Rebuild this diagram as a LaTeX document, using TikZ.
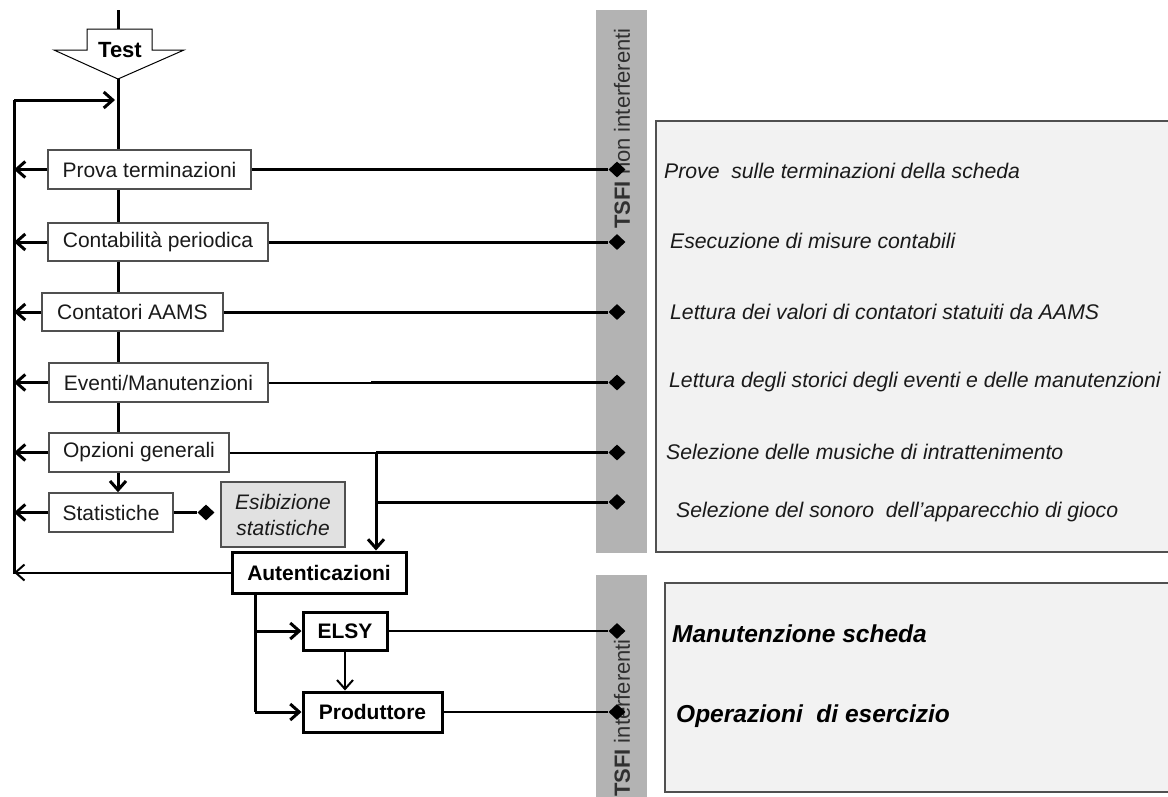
\documentclass[tikz,border=0pt]{standalone}
\usepackage{fontspec}
\setmainfont{Liberation Sans}
\usetikzlibrary{arrows.meta,shapes.geometric,calc}
\definecolor{boxgray}{HTML}{505050}
\definecolor{band}{HTML}{B3B3B3}
\definecolor{panel}{HTML}{F2F2F2}
\definecolor{txt}{HTML}{1A1A1A}
\definecolor{bandtxt}{HTML}{303030}
\begin{document}
\begin{tikzpicture}[x=1pt,y=-1pt,
  box/.style={draw=boxgray, line width=1.5pt, fill=white, inner sep=0pt, text=txt, font=\fontsize{21}{24}\selectfont},
  bbox/.style={draw=black, line width=3pt, fill=white, inner sep=0pt, font=\bfseries\fontsize{21}{24}\selectfont},
  dia/.style={diamond, fill=black, inner sep=0pt, minimum width=17pt, minimum height=16pt},
  thk/.style={line width=3pt},
  thn/.style={line width=2pt},
  barb/.style={-{Straight Barb[length=9pt,width=16pt]}},
  desc/.style={anchor=west, inner sep=0pt, text=txt, font=\itshape\fontsize{21.2}{24}\selectfont},
  bdesc/.style={anchor=west, inner sep=0pt, text=black, font=\bfseries\itshape\fontsize{24.5}{28}\selectfont},
  bandlabel/.style={rotate=90, inner sep=0pt, text=bandtxt, font=\fontsize{22}{24}\selectfont},
  panelbox/.style={draw=boxgray, line width=1.5pt, fill=panel}
]
\useasboundingbox (0,0) rectangle (1168,796);

% bands and panels
\fill[band] (596,10) rectangle (647,553);
\fill[band] (596,575) rectangle (647,800);
\draw[panelbox] (656,121) rectangle (1175,552);
\draw[panelbox] (665,583) rectangle (1175,792);

\node[bandlabel] (bandA) at (622,128.5) {\textbf{TSFI} non interferenti};
\node[bandlabel] (bandB) at (622,718) {\textbf{TSFI} interferenti};

% Test shape
\coordinate (top) at (118,10);
\coordinate (testtop) at (118,29);
\coordinate (testtip) at (118,79);
\draw[line width=1pt, fill=white] (87,29) -- (152,29) -- (152,50) -- (184,50) -- (testtip) -- (54,50) -- (87,50) -- cycle;
\node[font=\bfseries\fontsize{22}{24}\selectfont, inner sep=0pt] (test) at (120,50.5) {Test};
\draw[thk] (top) -- (testtop);

% left boxes
\node[box, minimum width=203pt, minimum height=39pt] (prova) at (149.5,169.5) {Prova terminazioni};
\node[box, minimum width=220pt, minimum height=38pt] (contab) at (158,242) {Contabilità periodica};
\node[box, minimum width=181pt, minimum height=38pt] (contat) at (132.5,312) {Contatori AAMS};
\node[box, minimum width=219pt, minimum height=39pt] (event) at (158.5,382.5) {Eventi/Manutenzioni};
\node[box, minimum width=180pt, minimum height=39pt] (opz) at (139,452.5) {Opzioni generali};
\node[box, minimum width=124pt, minimum height=39pt] (stat) at (111,512.5) {Statistiche};
\node[draw=boxgray, line width=1.5pt, fill=panel!85!gray, inner sep=0pt, minimum width=124pt, minimum height=65pt, align=center, text=txt, font=\itshape\fontsize{21}{26}\selectfont] (esib) at (283,514.5) {Esibizione\\statistiche};
\node[bbox, minimum width=174pt, minimum height=41pt] (aut) at (319,572.5) {Autenticazioni};
\node[bbox, minimum width=84pt, minimum height=38pt] (elsy) at (345,631) {ELSY};
\node[bbox, minimum width=139pt, minimum height=40pt] (prod) at (372.5,712) {Produttore};

% main vertical line
\draw[thk] (testtip) -- (testtip |- prova.north);
\draw[thk] (testtip |- prova.south) -- (testtip |- contab.north);
\draw[thk] (testtip |- contab.south) -- (testtip |- contat.north);
\draw[thk] (testtip |- contat.south) -- (testtip |- event.north);
\draw[thk] (testtip |- event.south) -- (testtip |- opz.north);
\draw[thk,barb] (testtip |- opz.south) -- (testtip |- stat.north);

% left return line
\coordinate (LT) at (14,100);
\coordinate (LB) at (14,574);
\coordinate (LA) at (115,100);
\draw[thk] (LB) -- (LT);
\draw[thk,barb] (LT) -- (LA);
\foreach \b in {prova,contab,contat,event,opz,stat}
  \draw[thk,barb] (\b.west) -- (\b.west -| LT);
\draw[thn,barb] (aut.west) -- (aut.west -| LT);

% diamonds
\node[dia] (d1) at (617,169.5) {};
\node[dia] (d2) at (617,242) {};
\node[dia] (d3) at (617,312) {};
\node[dia] (d4) at (617,382.5) {};
\node[dia] (d5) at (617,452.5) {};
\node[dia] (d6) at (617,502) {};
\node[dia] (d7) at (617,631) {};
\node[dia] (d8) at (617,712) {};
\node[dia] (ds) at (206,512.5) {};

% right connectors
\draw[thk] (prova.east) -- (d1);
\draw[thk] (contab.east) -- (d2);
\draw[thk] (contat.east) -- (d3);
\coordinate (ej) at (371,382.5);
\draw[thn] (event.east) -- (ej);
\draw[thk] (ej) -- (d4);
\coordinate (oj) at (376,452.5);
\draw[thn] (opz.east) -- (oj);
\draw[thk] (oj) -- (d5);
\draw[thk,barb] (oj) -- (oj |- aut.north);
\coordinate (sj) at (376,502);
\draw[thk] (sj) -- (d6);
\draw[thk] (stat.east) -- (ds);
\draw[thn] (elsy.east) -- (d7);
\draw[thn] (prod.east) -- (d8);

% authentication branches
\coordinate (av) at (255,600);
\draw[thk] (aut.south -| av) -- (prod.west -| av);
\draw[thk,barb] (elsy.west -| av) -- (elsy.west);
\draw[thk,barb] (prod.west -| av) -- (prod.west);
\draw[thn,barb] (elsy.south) -- (elsy.south |- prod.north);

% descriptions
\node[desc] (t1) at (664,171) {Prove\ \ sulle terminazioni della scheda};
\node[desc] (t2) at (670,241) {Esecuzione di misure contabili};
\node[desc] (t3) at (670,312) {Lettura dei valori di contatori statuiti da AAMS};
\node[desc] (t4) at (669,382) {Lettura degli storici degli eventi e delle manutenzioni};
\node[desc] (t5) at (666,452) {Selezione delle musiche di intrattenimento};
\node[desc] (t6) at (676,512) {Selezione del sonoro\ \ dell'apparecchio di gioco};
\node[bdesc] (t7) at (672,634) {Manutenzione scheda};
\node[bdesc] (t8) at (676,716) {Operazioni\ \ di esercizio};
\end{tikzpicture}
\end{document}
